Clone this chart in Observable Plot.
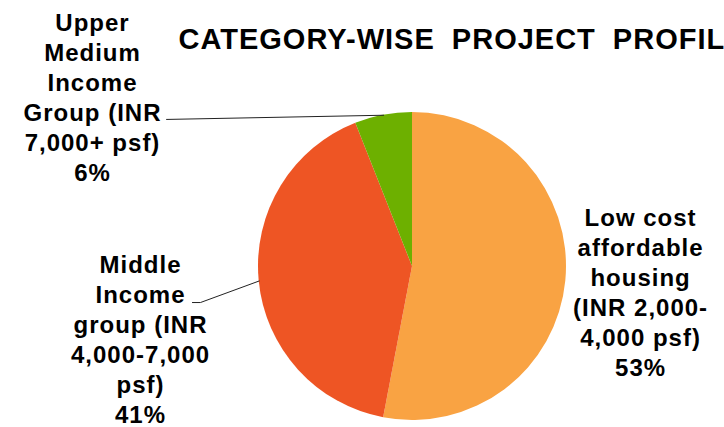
<!DOCTYPE html>
<html><head><meta charset="utf-8">
<script src="https://cdn.jsdelivr.net/npm/d3@7"></script>
<script src="https://cdn.jsdelivr.net/npm/@observablehq/plot@0.6"></script>
<style>
body{margin:0;background:#fff;}
#chart svg{display:block;background:#fff;}
</style>
</head><body><div id="chart"></div>
<script>
// ---- data ----
const categories = [
  "Low cost affordable housing (INR 2,000-4,000 psf)",
  "Middle Income group (INR 4,000-7,000 psf)",
  "Upper Medium Income Group (INR 7,000+ psf)"
];
const shares = [53, 41, 6];
const sliceColors = ["#F9A343", "#EE5524", "#6DB000"];
const labelTexts = [
  "Low cost\naffordable\nhousing\n(INR 2,000-\n4,000 psf)\n53%",
  "Middle\nIncome\ngroup (INR\n4,000-7,000\npsf)\n41%",
  "Upper\nMedium\nIncome\nGroup (INR\n7,000+ psf)\n6%"
];
const chartTitle = "CATEGORY-WISE PROJECT PROFILE";

// ---- layout (unit-circle coordinates; pie radius = 1) ----
const labelPos = [
  {u: 1.481, v: -0.708},   // low cost
  {u: -1.766, v: -1.019},  // middle
  {u: -2.078, v: 0.558}    // upper
];
const leaderStart = [null, [{u: -1.429, v: -0.234}, {u: -1.377, v: -0.234}], [{u: -1.597, v: 0.955}]];

const data = categories.map((c, i) => ({category: c, share: shares[i], color: sliceColors[i], label: labelTexts[i], ...labelPos[i]}));
const arcs = d3.pie().sort(null).value(d => d.share)(data);

// leader lines: from label to the slice's mid-angle point on the rim
const leaders = [];
arcs.forEach((a, i) => {
  if (!leaderStart[i]) return;
  const mid = (a.startAngle + a.endAngle) / 2;
  leaderStart[i].forEach(p => leaders.push({id: i, u: p.u, v: p.v}));
  leaders.push({id: i, u: Math.sin(mid), v: Math.cos(mid)});
});

function pieMark(index, scales) {
  const cx = scales.x(0), cy = scales.y(0), r = scales.x(1) - scales.x(0);
  const arc = d3.arc().innerRadius(0).outerRadius(r);
  const g = d3.create("svg:g").attr("transform", `translate(${cx},${cy})`);
  g.selectAll("path").data(arcs).join("path")
    .attr("d", arc).attr("fill", d => d.data.color);
  return g.node();
}

const font = "Liberation Sans, Arial, sans-serif";

const chart = Plot.plot({
  width: 724, height: 427,
  margin: 0,
  x: {domain: [-1, 1], range: [258, 566], axis: null},
  y: {domain: [-1, 1], range: [420, 112], axis: null},
  style: {fontFamily: font, background: "#fff"},
  marks: [
    Plot.dot([{u: 0, v: 0}], {x: "u", y: "v", r: 0, stroke: "none"}),
    pieMark,
    Plot.line(leaders, {x: "u", y: "v", z: "id", stroke: "#222", strokeWidth: 1}),
    Plot.text(data, {
      x: "u", y: "v", text: "label",
      fontSize: 24, fontWeight: "bold", fill: "#000",
      lineAnchor: "bottom", lineHeight: 1.25, textAnchor: "middle",
      fontFamily: font
    }),
    Plot.text([chartTitle], {
      frameAnchor: "top-left", dx: 178, dy: 48,
      text: d => d, textAnchor: "start", lineAnchor: "bottom",
      fontSize: 29, fontWeight: "bold", fill: "#000", fontFamily: font
    })
  ]
});
d3.select(chart).selectAll("text").style("letter-spacing", "1px");
d3.select(chart).selectAll("g[aria-label='text']:last-of-type text").style("letter-spacing", "1px").style("word-spacing", "8px");
document.getElementById("chart").append(chart);
</script>
</body></html>
